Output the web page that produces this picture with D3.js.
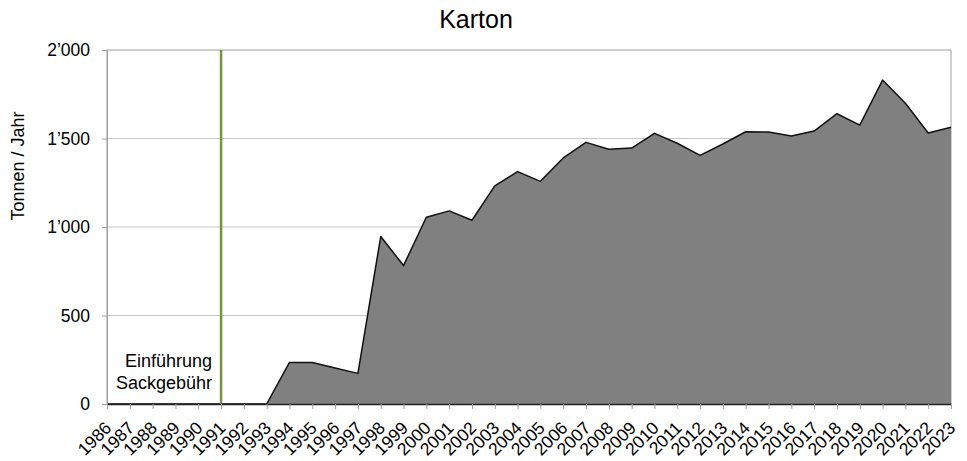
<!DOCTYPE html>
<html>
<head>
<meta charset="utf-8">
<script src="https://cdn.jsdelivr.net/npm/d3@7"></script>
<style>
  body { margin: 0; background: #fff; }
  text { font-family: "Liberation Sans", Arial, sans-serif; fill: #000; }
</style>
</head>
<body>
<div id="chart"></div>
<script>
// data
var years = d3.range(1986, 2024);
var tonnen = [0, 0, 0, 0, 0, 0, 0, 0, 235, 235, 203, 173, 946, 782, 1055, 1091,
  1038, 1232, 1313, 1258, 1390, 1478, 1439, 1446, 1529, 1473, 1405, 1469, 1538,
  1537, 1514, 1542, 1640, 1576, 1830, 1699, 1531, 1563];
var yTicks = [0, 500, 1000, 1500, 2000];
var markerYear = 1991;
var markerLabel = ["Einführung", "Sackgebühr"];

var data = years.map((y, i) => ({year: y, value: tonnen[i]}));

// dimensions
var margin = {top: 50, right: 16, bottom: 57, left: 107},
    width = 967 - margin.left - margin.right,
    height = 461 - margin.top - margin.bottom;

var svg = d3.select("#chart")
  .append("svg")
    .attr("width", 967)
    .attr("height", 461);

var g = svg.append("g")
    .attr("transform", `translate(${margin.left},${margin.top})`);

var x = d3.scaleLinear()
  .domain([1986, 2023])
  .range([0, width]);

var y = d3.scaleLinear()
  .domain([0, 2000])
  .range([height, 0]);

var fmt = d3.formatLocale({decimal: ".", thousands: "’", grouping: [3], currency: ["", ""]}).format(",");

// grid lines
g.append("g")
  .selectAll("line")
  .data(yTicks.slice(1, -1))
  .join("line")
    .attr("x1", 0)
    .attr("x2", width)
    .attr("y1", d => y(d))
    .attr("y2", d => y(d))
    .attr("stroke", "#c8c8c8")
    .attr("stroke-width", 1);

// plot border
g.append("rect")
  .attr("width", width)
  .attr("height", height)
  .attr("fill", "none")
  .attr("stroke", "#a0a0a0")
  .attr("stroke-width", 1);

// area
var area = d3.area()
  .x(d => x(d.year))
  .y0(y(0))
  .y1(d => y(d.value));

g.append("path")
  .datum(data)
  .attr("d", area)
  .attr("fill", "#808080");

g.append("path")
  .datum(data)
  .attr("d", d3.line().x(d => x(d.year)).y(d => y(d.value)))
  .attr("fill", "none")
  .attr("stroke", "#111")
  .attr("stroke-width", 1.5)
  .attr("stroke-linejoin", "round");

// marker line
g.append("line")
  .attr("x1", x(markerYear))
  .attr("x2", x(markerYear))
  .attr("y1", 0)
  .attr("y2", height)
  .attr("stroke", "#77933c")
  .attr("stroke-width", 2.5);

g.append("text")
  .attr("text-anchor", "end")
  .style("font-size", "18px")
  .selectAll("tspan")
  .data(markerLabel)
  .join("tspan")
    .attr("x", x(markerYear) - 9)
    .attr("y", (d, i) => y(0) - 37 + i * 22)
    .text(d => d);

// Y axis
var yAxis = g.append("g")
  .call(d3.axisLeft(y).tickValues(yTicks).tickFormat(fmt).tickSize(5).tickPadding(12));
yAxis.select(".domain").attr("stroke", "#a0a0a0");
yAxis.selectAll(".tick line").attr("stroke", "#a0a0a0");
yAxis.selectAll("text").style("font-size", "17.5px").attr("fill", "#000");

// X axis
var xAxis = g.append("g")
  .attr("transform", `translate(0, ${height})`)
  .call(d3.axisBottom(x).tickValues(years).tickFormat(d => d).tickSize(5).tickSizeOuter(0));
xAxis.select(".domain").attr("stroke", "#222").attr("stroke-width", 1.5);
xAxis.selectAll(".tick line").attr("stroke", "#a0a0a0");
xAxis.selectAll("text")
  .style("font-size", "17.5px")
  .attr("fill", "#000")
  .attr("text-anchor", "end")
  .attr("dy", null)
  .attr("y", 0)
  .attr("transform", "translate(5,25)rotate(-45)");

// title
svg.append("text")
  .attr("x", 476)
  .attr("y", 28)
  .attr("text-anchor", "middle")
  .style("font-size", "25px")
  .text("Karton");

// y label
svg.append("text")
  .attr("transform", `translate(24, 166)rotate(-90)`)
  .attr("text-anchor", "middle")
  .style("font-size", "18px")
  .text("Tonnen / Jahr");
</script>
</body>
</html>
